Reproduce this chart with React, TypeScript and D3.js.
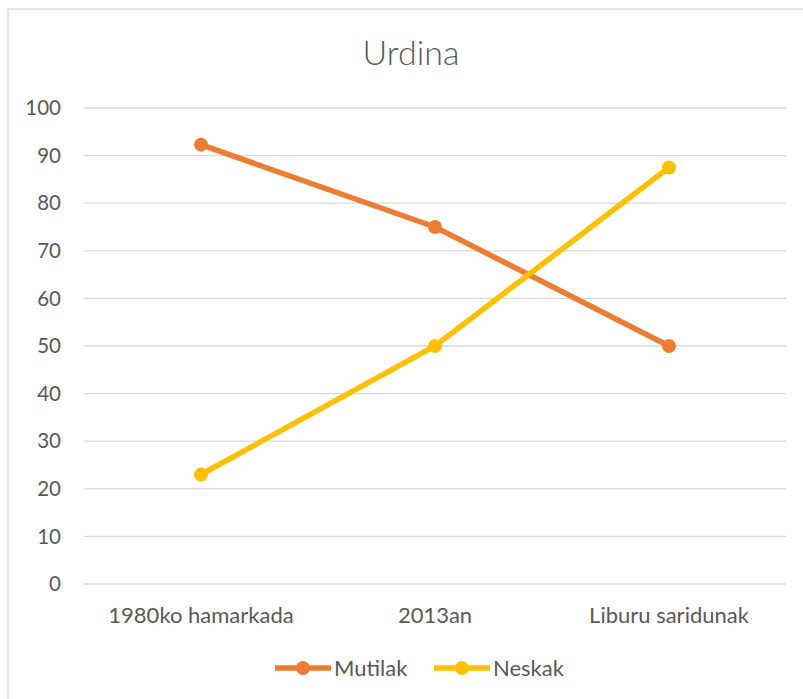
import React from "react";
import * as d3 from "d3";

const categories = ["1980ko hamarkada", "2013an", "Liburu saridunak"];
const mutilak = [92.3, 75, 50];
const neskak = [23, 50, 87.5];
const yTicks = [0, 10, 20, 30, 40, 50, 60, 70, 80, 90, 100];
const seriesNames = ["Mutilak", "Neskak"];
const seriesColors = ["#ED7D31", "#FFC000"];

const W = 803;
const H = 699;
const FONT = "Lato, 'Open Sans', sans-serif";
const TEXT = "#595959";

export default function App() {
  const x = d3.scaleBand<string>().domain(categories).range([84, 786]);
  const y = d3.scaleLinear().domain([0, 100]).range([584, 108]);
  const cx = (c: string) => (x(c) as number) + x.bandwidth() / 2;
  const line = d3
    .line<number>()
    .x((_, i) => cx(categories[i]))
    .y((d) => y(d));
  const series = [mutilak, neskak];

  return (
    <svg
      width={W}
      height={H}
      style={{ position: "absolute", left: 0, top: 0, display: "block" }}
      fontFamily={FONT}
    >
      <rect x={0} y={0} width={W} height={H} fill="#fff" />
      <rect x={8} y={9} width={W} height={H} fill="#fff" stroke="#D9D9D9" strokeWidth={1.3} />
      <text x={411} y={65} textAnchor="middle" fontSize={34} fontWeight={300} fill={TEXT}>
        Urdina
      </text>
      {yTicks.map((t) => (
        <g key={t}>
          <line x1={84} x2={786} y1={y(t)} y2={y(t)} stroke="#D9D9D9" strokeWidth={1.3} />
          <text x={61} y={y(t)} dy="0.35em" textAnchor="end" fontSize={20.5} fill={TEXT}>
            {t}
          </text>
        </g>
      ))}
      {categories.map((c) => (
        <text key={c} x={cx(c)} y={615} dy="0.35em" textAnchor="middle" fontSize={22} fill={TEXT}>
          {c}
        </text>
      ))}
      {series.map((s, si) => (
        <g key={si}>
          <path d={line(s) || ""} fill="none" stroke={seriesColors[si]} strokeWidth={5.5} strokeLinecap="round" />
          {s.map((v, i) => (
            <circle key={i} cx={cx(categories[i])} cy={y(v)} r={7} fill={seriesColors[si]} />
          ))}
        </g>
      ))}
      {seriesNames.map((n, i) => {
        const lx = [275, 434][i];
        return (
          <g key={n}>
            <line x1={lx} x2={lx + 56} y1={668} y2={668} stroke={seriesColors[i]} strokeWidth={5.5} />
            <circle cx={lx + 28} cy={668} r={7} fill={seriesColors[i]} />
            <text x={lx + 59} y={668} dy="0.35em" fontSize={22} fill={TEXT}>
              {n}
            </text>
          </g>
        );
      })}
    </svg>
  );
}
